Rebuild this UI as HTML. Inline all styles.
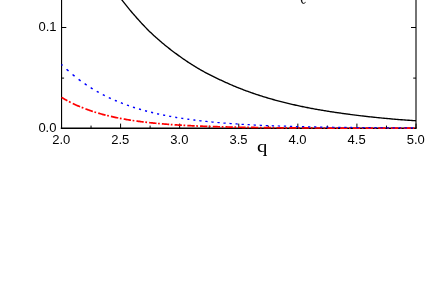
<!DOCTYPE html>
<html><head><meta charset="utf-8"><style>
html,body{margin:0;padding:0;background:#fff;}
svg{display:block;will-change:transform}
.ns path{vector-effect:non-scaling-stroke}
text{font-family:"Liberation Sans",sans-serif;font-size:13px;fill:#000}
.q{font-family:"Liberation Serif",serif;font-size:17.5px}
</style></head><body>
<svg width="436" height="306" viewBox="0 0 436 306">
<rect width="436" height="306" fill="#fff"/>
<path d="M118.00 -4.95 L119.00 -3.67 L120.00 -2.39 L121.00 -1.12 L122.00 0.13 L123.00 1.41 L124.00 2.68 L125.00 3.94 L126.00 5.19 L127.00 6.43 L128.00 7.65 L129.00 8.87 L130.00 10.07 L131.00 11.26 L132.00 12.45 L133.00 13.62 L134.00 14.78 L135.00 15.93 L136.00 17.07 L137.00 18.20 L138.00 19.31 L139.00 20.42 L140.00 21.52 L141.00 22.61 L142.00 23.68 L143.00 24.75 L144.00 25.81 L145.00 26.86 L146.00 27.90 L147.00 28.93 L148.00 29.95 L149.00 30.96 L150.00 31.91 L151.00 32.86 L152.00 33.79 L153.00 34.72 L154.00 35.63 L155.00 36.54 L156.00 37.44 L157.00 38.33 L158.00 39.22 L159.00 40.09 L160.00 40.96 L161.00 41.81 L162.00 42.66 L163.00 43.50 L164.00 44.33 L165.00 45.16 L166.00 45.97 L167.00 46.78 L168.00 47.57 L169.00 48.36 L170.00 49.14 L171.00 49.92 L172.00 50.68 L173.00 51.44 L174.00 52.19 L175.00 52.94 L176.00 53.67 L177.00 54.40 L178.00 55.13 L179.00 55.85 L180.00 56.57 L181.00 57.28 L182.00 57.98 L183.00 58.68 L184.00 59.37 L185.00 60.06 L186.00 60.73 L187.00 61.40 L188.00 62.07 L189.00 62.72 L190.00 63.37 L191.00 64.02 L192.00 64.66 L193.00 65.29 L194.00 65.91 L195.00 66.53 L196.00 67.14 L197.00 67.75 L198.00 68.35 L199.00 68.94 L200.00 69.53 L201.00 70.10 L202.00 70.66 L203.00 71.21 L204.00 71.76 L205.00 72.30 L206.00 72.83 L207.00 73.36 L208.00 73.89 L209.00 74.41 L210.00 74.92 L211.00 75.43 L212.00 75.93 L213.00 76.43 L214.00 76.92 L215.00 77.41 L216.00 77.89 L217.00 78.37 L218.00 78.84 L219.00 79.31 L220.00 79.77 L221.00 80.23 L222.00 80.68 L223.00 81.15 L224.00 81.62 L225.00 82.08 L226.00 82.54 L227.00 82.99 L228.00 83.44 L229.00 83.88 L230.00 84.32 L231.00 84.75 L232.00 85.18 L233.00 85.61 L234.00 86.03 L235.00 86.44 L236.00 86.86 L237.00 87.26 L238.00 87.67 L239.00 88.07 L240.00 88.46 L241.00 88.86 L242.00 89.24 L243.00 89.63 L244.00 90.01 L245.00 90.38 L246.00 90.76 L247.00 91.12 L248.00 91.49 L249.00 91.85 L250.00 92.21 L251.00 92.56 L252.00 92.91 L253.00 93.26 L254.00 93.60 L255.00 93.94 L256.00 94.28 L257.00 94.61 L258.00 94.94 L259.00 95.26 L260.00 95.59 L261.00 95.91 L262.00 96.22 L263.00 96.53 L264.00 96.84 L265.00 97.15 L266.00 97.45 L267.00 97.75 L268.00 98.05 L269.00 98.34 L270.00 98.63 L271.00 98.92 L272.00 99.21 L273.00 99.49 L274.00 99.77 L275.00 100.04 L276.00 100.32 L277.00 100.59 L278.00 100.86 L279.00 101.12 L280.00 101.38 L281.00 101.64 L282.00 101.90 L283.00 102.15 L284.00 102.41 L285.00 102.65 L286.00 102.90 L287.00 103.14 L288.00 103.39 L289.00 103.62 L290.00 103.86 L291.00 104.10 L292.00 104.33 L293.00 104.56 L294.00 104.78 L295.00 105.01 L296.00 105.23 L297.00 105.45 L298.00 105.67 L299.00 105.88 L300.00 106.10 L301.00 106.31 L302.00 106.52 L303.00 106.72 L304.00 106.93 L305.00 107.13 L306.00 107.33 L307.00 107.53 L308.00 107.72 L309.00 107.92 L310.00 108.11 L311.00 108.30 L312.00 108.49 L313.00 108.67 L314.00 108.86 L315.00 109.04 L316.00 109.22 L317.00 109.40 L318.00 109.58 L319.00 109.75 L320.00 109.93 L321.00 110.10 L322.00 110.27 L323.00 110.43 L324.00 110.60 L325.00 110.76 L326.00 110.93 L327.00 111.09 L328.00 111.25 L329.00 111.41 L330.00 111.56 L331.00 111.72 L332.00 111.87 L333.00 112.02 L334.00 112.17 L335.00 112.32 L336.00 112.46 L337.00 112.61 L338.00 112.75 L339.00 112.90 L340.00 113.04 L341.00 113.18 L342.00 113.33 L343.00 113.47 L344.00 113.61 L345.00 113.75 L346.00 113.89 L347.00 114.02 L348.00 114.16 L349.00 114.29 L350.00 114.42 L351.00 114.56 L352.00 114.69 L353.00 114.81 L354.00 114.94 L355.00 115.07 L356.00 115.19 L357.00 115.32 L358.00 115.44 L359.00 115.56 L360.00 115.68 L361.00 115.80 L362.00 115.92 L363.00 116.03 L364.00 116.15 L365.00 116.26 L366.00 116.38 L367.00 116.49 L368.00 116.60 L369.00 116.71 L370.00 116.82 L371.00 116.93 L372.00 117.04 L373.00 117.14 L374.00 117.25 L375.00 117.35 L376.00 117.45 L377.00 117.55 L378.00 117.66 L379.00 117.75 L380.00 117.85 L381.00 117.95 L382.00 118.05 L383.00 118.14 L384.00 118.24 L385.00 118.33 L386.00 118.43 L387.00 118.52 L388.00 118.61 L389.00 118.70 L390.00 118.79 L391.00 118.88 L392.00 118.97 L393.00 119.06 L394.00 119.14 L395.00 119.23 L396.00 119.31 L397.00 119.40 L398.00 119.48 L399.00 119.56 L400.00 119.64 L401.00 119.72 L402.00 119.79 L403.00 119.87 L404.00 119.94 L405.00 120.01 L406.00 120.08 L407.00 120.15 L408.00 120.22 L409.00 120.29 L410.00 120.36 L411.00 120.43 L412.00 120.49 L413.00 120.56 L414.00 120.63 L415.00 120.69 L416.00 120.76" fill="none" stroke="#000" stroke-width="1.35"/>
<path d="M61.55 0V128.90" stroke="#000" stroke-width="1.15" fill="none"/>
<path d="M60.80 128.20H416.60" stroke="#000" stroke-width="1.4" fill="none"/>
<path d="M416.00 0V128.20" stroke="#000" stroke-width="1.1" fill="none"/>
<path d="M61.50 128.20v-4.6M91.04 128.20v-2.6M120.58 128.20v-4.6M150.12 128.20v-2.6M179.67 128.20v-4.6M209.21 128.20v-2.6M238.75 128.20v-4.6M268.29 128.20v-2.6M297.83 128.20v-4.6M327.38 128.20v-2.6M356.92 128.20v-4.6M386.46 128.20v-2.6M416.00 128.20v-4.6M61.50 27.50h4.8M61.50 78.10h2.6M416.00 27.50h-5.0M416.00 78.10h-2.8" stroke="#000" stroke-width="1.0" fill="none"/>
<path d="M61.50 97.39 L62.67 98.09 L63.85 98.77 L65.02 99.44 L66.20 100.09 L67.37 100.72 M68.95 101.55 L70.65 102.42 M72.75 103.45 L73.80 103.95 L74.85 104.44 L75.90 104.92 L76.95 105.40 L78.00 105.86 L79.05 106.31 L80.10 106.75 M81.68 107.40 L83.38 108.08 M85.48 108.88 L86.53 109.27 L87.58 109.66 L88.63 110.03 L89.68 110.40 L90.73 110.76 L91.78 111.11 L92.83 111.46 M94.41 111.97 L96.11 112.49 M98.21 113.12 L99.26 113.43 L100.31 113.73 L101.36 114.02 L102.41 114.31 L103.46 114.59 L104.51 114.86 L105.56 115.13 M107.14 115.53 L108.84 115.94 M110.94 116.43 L111.99 116.67 L113.04 116.90 L114.09 117.13 L115.14 117.36 L116.19 117.58 L117.24 117.79 L118.29 118.00 M119.87 118.31 L121.57 118.63 M123.67 119.01 L124.72 119.20 L125.77 119.38 L126.82 119.56 L127.87 119.74 L128.92 119.91 L129.97 120.07 L131.02 120.24 M132.60 120.48 L134.30 120.73 M136.40 121.03 L137.45 121.18 L138.50 121.32 L139.55 121.46 L140.60 121.59 L141.65 121.73 L142.70 121.86 L143.75 121.99 M145.33 122.17 L147.03 122.37 M149.13 122.60 L150.18 122.72 L151.23 122.83 L152.28 122.94 L153.33 123.04 L154.38 123.15 L155.43 123.25 L156.48 123.35 M158.06 123.50 L159.76 123.65 M161.86 123.83 L162.91 123.92 L163.96 124.01 L165.01 124.09 L166.06 124.18 L167.11 124.26 L168.16 124.34 L169.21 124.41 M170.79 124.53 L172.49 124.65 M174.59 124.79 L175.64 124.86 L176.69 124.93 L177.74 124.99 L178.79 125.06 L179.84 125.12 L180.89 125.18 L181.94 125.25 M183.52 125.33 L185.22 125.43 M187.32 125.54 L188.37 125.59 L189.42 125.65 L190.47 125.70 L191.52 125.75 L192.57 125.80 L193.62 125.85 L194.67 125.89 M196.25 125.96 L197.95 126.04 M200.05 126.12 L201.10 126.16 L202.15 126.21 L203.20 126.25 L204.25 126.29 L205.30 126.32 L206.35 126.36 L207.40 126.40 M208.98 126.45 L210.68 126.51 M212.78 126.58 L213.83 126.61 L214.88 126.64 L215.93 126.68 L216.98 126.71 L218.03 126.74 L219.08 126.77 L220.13 126.79 M221.71 126.84 L223.41 126.88 M225.51 126.93 L226.56 126.96 L227.61 126.99 L228.66 127.01 L229.71 127.03 L230.76 127.06 L231.81 127.08 L232.86 127.10 M234.44 127.14 L236.14 127.17 M238.24 127.21 L239.29 127.23 L240.34 127.25 L241.39 127.27 L242.44 127.29 L243.49 127.31 L244.54 127.33 L245.59 127.34 M247.17 127.37 L248.87 127.40 M250.97 127.43 L252.02 127.44 L253.07 127.46 L254.12 127.47 L255.17 127.49 L256.22 127.50 L257.27 127.52 L258.32 127.53 M259.90 127.55 L261.60 127.57 M263.70 127.60 L264.75 127.61 L265.80 127.62 L266.85 127.63 L267.90 127.65 L268.95 127.66 L270.00 127.67 L271.05 127.68 M272.63 127.69 L274.33 127.71 M276.43 127.73 L277.48 127.74 L278.53 127.75 L279.58 127.76 L280.63 127.77 L281.68 127.78 L282.73 127.78 L283.78 127.79 M285.36 127.81 L287.06 127.82 M289.16 127.83 L290.21 127.84 L291.26 127.85 L292.31 127.86 L293.36 127.86 L294.41 127.87 L295.46 127.88 L296.51 127.88 M298.09 127.89 L299.79 127.90 M301.89 127.91 L302.94 127.92 L303.99 127.93 L305.04 127.93 L306.09 127.94 L307.14 127.94 L308.19 127.95 L309.24 127.95 M310.82 127.96 L312.52 127.97 M314.62 127.98 L315.67 127.98 L316.72 127.99 L317.77 127.99 L318.82 127.99 L319.87 128.00 L320.92 128.00 L321.97 128.01 M323.55 128.01 L325.25 128.02 M327.35 128.03 L328.40 128.03 L329.45 128.03 L330.50 128.04 L331.55 128.04 L332.60 128.04 L333.65 128.05 L334.70 128.05 M336.28 128.05 L337.98 128.06 M340.08 128.06 L341.13 128.07 L342.18 128.07 L343.23 128.07 L344.28 128.07 L345.33 128.08 L346.38 128.08 L347.43 128.08 M349.01 128.09 L350.71 128.09 M352.81 128.09 L353.86 128.10 L354.91 128.10 L355.96 128.10 L357.01 128.10 L358.06 128.10 L359.11 128.11 L360.16 128.11 M361.74 128.11 L363.44 128.11 M365.54 128.12 L366.59 128.12 L367.64 128.12 L368.69 128.12 L369.74 128.12 L370.79 128.13 L371.84 128.13 L372.89 128.13 M374.47 128.13 L376.17 128.13 M378.27 128.14 L379.32 128.14 L380.37 128.14 L381.42 128.14 L382.47 128.14 L383.52 128.14 L384.57 128.14 L385.62 128.14 M387.20 128.15 L388.90 128.15 M391.00 128.15 L392.05 128.15 L393.10 128.15 L394.15 128.15 L395.20 128.15 L396.25 128.15 L397.30 128.16 L398.35 128.16 M399.93 128.16 L401.63 128.16 M403.73 128.16 L404.78 128.16 L405.83 128.16 L406.88 128.16 L407.93 128.16 L408.98 128.16 L410.03 128.17 L411.08 128.17 M412.66 128.17 L414.36 128.17" stroke="#ff0000" stroke-width="1.7" fill="none"/>
<path d="M61.50 64.47 L62.00 64.96 L62.50 65.45 M66.54 69.25 L67.54 70.16 L68.54 71.05 M72.58 74.52 L73.58 75.34 L74.58 76.16 M78.62 79.31 L79.62 80.06 L80.62 80.80 M84.66 83.68 L85.66 84.36 L86.66 85.04 M90.70 87.65 L91.70 88.28 L92.70 88.89 M96.74 91.27 L97.74 91.84 L98.74 92.40 M102.78 94.57 L103.78 95.09 L104.78 95.60 M108.82 97.57 L109.82 98.04 L110.82 98.51 M114.86 100.31 L115.86 100.74 L116.86 101.16 M120.90 102.80 L121.90 103.19 L122.90 103.57 M126.94 105.07 L127.94 105.42 L128.94 105.77 M132.98 107.13 L133.98 107.46 L134.98 107.78 M139.02 109.01 L140.02 109.31 L141.02 109.60 M145.06 110.73 L146.06 111.00 L147.06 111.26 M151.10 112.29 L152.10 112.53 L153.10 112.77 M157.14 113.71 L158.14 113.93 L159.14 114.15 M163.18 115.00 L164.18 115.21 L165.18 115.41 M169.22 116.18 L170.22 116.37 L171.22 116.55 M175.26 117.25 L176.26 117.42 L177.26 117.59 M181.30 118.23 L182.30 118.39 L183.30 118.54 M187.34 119.12 L188.34 119.26 L189.34 119.40 M193.38 119.93 L194.38 120.06 L195.38 120.18" stroke="#0000ff" stroke-width="1.45" fill="none"/>
<path d="M199.27 120.65 L200.42 120.79 L201.57 120.92 M205.31 121.33 L206.46 121.45 L207.61 121.57 M211.35 121.94 L212.50 122.05 L213.65 122.16 M217.39 122.50 L218.54 122.60 L219.69 122.70 M223.43 123.01 L224.58 123.10 L225.73 123.19 M229.47 123.47 L230.62 123.56 L231.77 123.64 M235.51 123.89 L236.66 123.97 L237.81 124.05 M241.55 124.28 L242.70 124.35 L243.85 124.42 M247.59 124.63 L248.74 124.69 L249.89 124.75 M253.63 124.95 L254.78 125.01 L255.93 125.06 M259.67 125.24 L260.82 125.29 L261.97 125.34 M265.71 125.50 L266.86 125.55 L268.01 125.60 M271.75 125.74 L272.90 125.79 L274.05 125.83 M277.79 125.96 L278.94 126.00 L280.09 126.04 M283.83 126.16 L284.98 126.20 L286.13 126.23 M289.87 126.34 L291.02 126.38 L292.17 126.41 M295.91 126.51 L297.06 126.54 L298.21 126.57 M301.95 126.66 L303.10 126.69 L304.25 126.72 M307.99 126.80 L309.14 126.82 L310.29 126.85 M314.03 126.92 L315.18 126.95 L316.33 126.97 M320.07 127.04 L321.22 127.06 L322.37 127.08 M326.11 127.14 L327.26 127.16 L328.41 127.18 M332.15 127.24 L333.30 127.25 L334.45 127.27 M338.19 127.32 L339.34 127.34 L340.49 127.35 M344.23 127.40 L345.38 127.41 L346.53 127.43 M350.27 127.47 L351.42 127.48 L352.57 127.50 M356.31 127.54 L357.46 127.55 L358.61 127.56 M362.35 127.60 L363.50 127.61 L364.65 127.62 M368.39 127.65 L369.54 127.66 L370.69 127.67 M374.43 127.70 L375.58 127.71 L376.73 127.72 M380.47 127.74 L381.62 127.75 L382.77 127.76 M386.51 127.78 L387.66 127.79 L388.81 127.80 M392.55 127.82 L393.70 127.83 L394.85 127.83 M398.59 127.86 L399.74 127.86 L400.89 127.87 M404.63 127.89 L405.78 127.89 L406.93 127.90 M410.67 127.91 L411.82 127.92 L412.97 127.92" stroke="#0000ff" stroke-width="1.25" fill="none"/>
<path d="M300.8 0C300.9 1.8 301.8 3.8 303.4 3.8C304.5 3.8 305.3 3.0 305.8 2.0L305.5 1.8C305.0 2.5 304.4 2.9 303.8 2.9C302.8 2.9 302.2 1.6 302.2 0Z" fill="#111"/>
<g fill="#000">
<text x="52.2" y="143.55" font-size="13.1">2.0</text>
<text x="111.28" y="143.55" font-size="13.1">2.5</text>
<text x="170.36" y="143.55" font-size="13.1">3.0</text>
<text x="229.45" y="143.55" font-size="13.1">3.5</text>
<text x="288.53" y="143.55" font-size="13.1">4.0</text>
<text x="347.61" y="143.55" font-size="13.1">4.5</text>
<text x="406.7" y="143.55" font-size="13.1">5.0</text>
<text x="38.39" y="131.65" font-size="13.1">0.0</text>
<text x="38.43" y="31" font-size="13.1">0.1</text>
<text class="q" x="257.1" y="151.85" font-size="17.7" textLength="10.4" lengthAdjust="spacingAndGlyphs">q</text>
</g>
</svg>
</body></html>
